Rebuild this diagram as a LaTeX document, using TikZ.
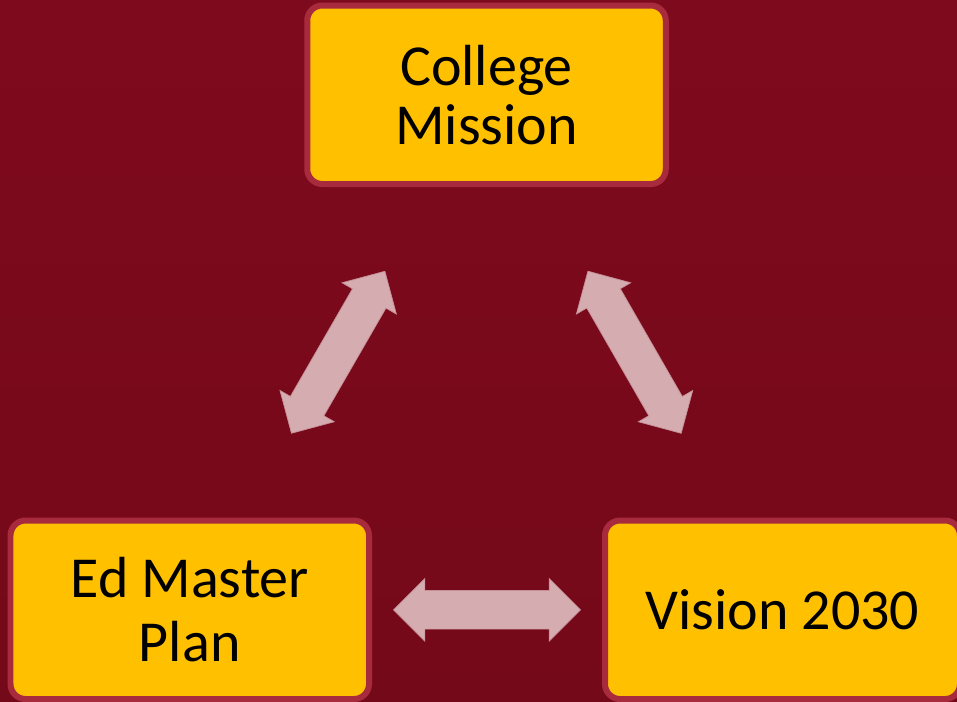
\documentclass[tikz,border=0pt]{standalone}
\usepackage{fontspec}
\setmainfont{Carlito}
\usetikzlibrary{shapes.arrows}
\definecolor{slidered}{HTML}{7E0A1D}
\definecolor{slidedark}{HTML}{740919}
\definecolor{boxgold}{HTML}{FFC000}
\definecolor{boxrim}{HTML}{A82B3D}
\definecolor{arrowpink}{HTML}{D5ACB0}
\definecolor{arrowrim}{HTML}{C48E96}

\begin{document}
\begin{tikzpicture}[
	goal/.style={rectangle,rounded corners=0.3cm,draw=boxrim,line width=0.12cm,
		fill=boxgold,minimum width=7.17cm,minimum height=3.57cm,inner sep=0pt,
		align=center,font=\fontsize{33}{33.4}\selectfont},
	link/.style={double arrow,fill=arrowpink,draw=arrowrim,line width=0.4pt,
		minimum height=3.74cm,inner xsep=0pt,inner ysep=0.38cm,
		double arrow head extend=0.24cm,sloped}]
		\clip (0,0) rectangle (19.14,-14.02);
		\shade[top color=slidered,bottom color=slidedark] (0,0) rectangle (19.14,-14.02);
		
		\node[goal] (mission) at (9.73,-1.895) {College\\Mission};
		\node[goal] (plan) at (3.795,-12.195) {Ed Master\\[0.1cm]Plan};
		\node[goal,minimum width=7.1cm] (vision) at (15.65,-12.195) {Vision 2030};
		
		\path (plan) -- node[link] {} (mission);
		\path (mission) -- node[link] {} (vision);
		\path (plan) -- node[link] {} (vision);
		\end{tikzpicture}
\end{document}
